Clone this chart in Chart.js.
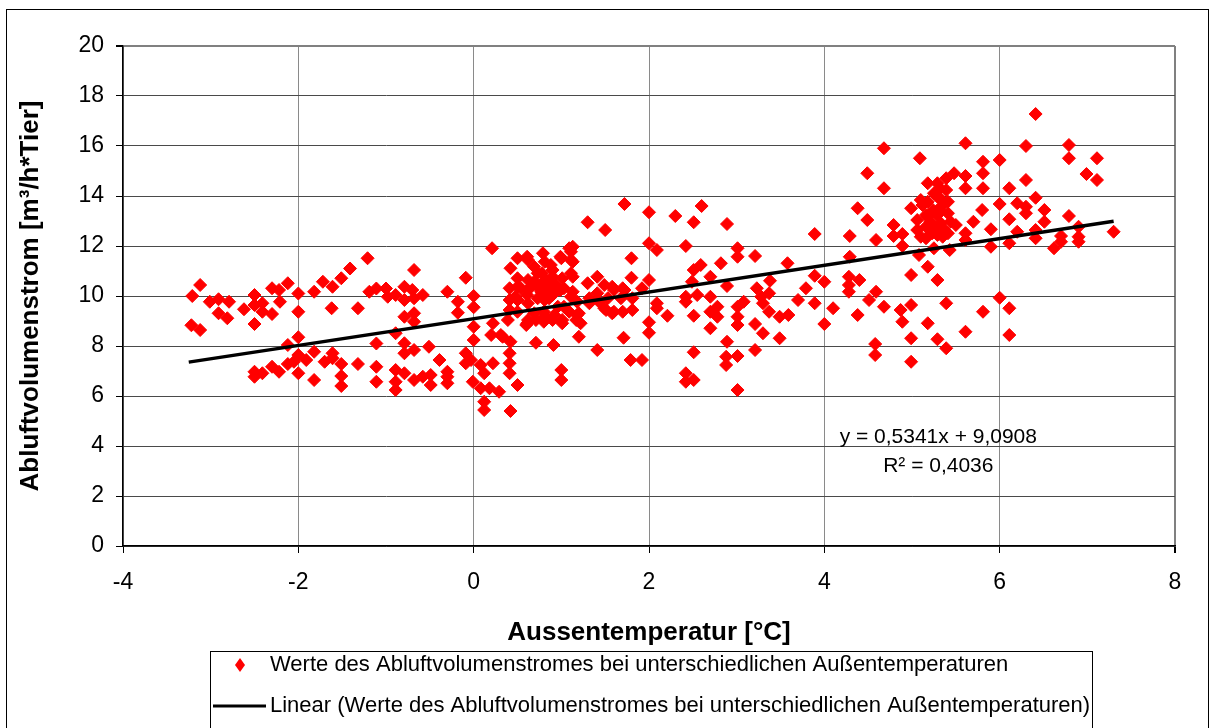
<!DOCTYPE html>
<html>
<head>
<meta charset="utf-8">
<script src="https://cdn.jsdelivr.net/npm/chart.js@4.4.0/dist/chart.umd.min.js"></script>
<style>
  html, body { margin: 0; padding: 0; background: #fff; }
  #wrap { width: 1209px; height: 728px; }
</style>
</head>
<body>
<div id="wrap"><canvas id="chart" width="1209" height="728"></canvas></div>
<script>
// Messwerte: Aussentemperatur [°C] und Abluftvolumenstrom [m³/h*Tier], nach Temperaturbereich
const tempWest = [-3.12,-3.21,-3.22,-3.12,-3.01,-2.91,-2.79,-2.91,-2.81,-2.62,
  -2.5,-2.5,-2.41,-2.41,-2.5,-2.3,-2.3,-2.22,-2.21,-2.12,
  -2.0,-2.0,-1.82,-1.72,-1.61,-1.62,-1.51,-1.41,-1.32,-1.21,
  -1.19,-1.11,-2.0,-2.12,-2.0,-2.05,-1.91,-1.82,-2.12,-2.3,
  -2.22,-2.5,-2.5,-2.41,-2.0,-1.82,-1.7,-1.61,-1.61,-1.51,
  -1.51,-1.51,-1.32,-1.11,-1.11,-1.11];
const flowWest = [10.44,10.0,8.83,8.64,9.77,9.87,9.77,9.31,9.11,9.47,
  10.04,9.64,9.71,9.37,8.88,9.28,10.31,10.24,9.77,10.51,
  10.1,9.37,10.17,10.57,10.37,9.51,10.71,11.1,9.51,11.51,
  10.17,10.3,8.35,8.04,7.64,7.37,7.44,7.77,7.28,7.17,
  6.97,6.97,6.77,6.91,6.91,6.64,7.37,7.71,7.51,7.28,
  6.8,6.4,7.28,8.1,7.17,6.57];

const tempZero = [-0.68,-1.0,-0.98,-0.89,-0.79,-0.79,-0.7,-0.68,-0.58,-0.79,
  -0.68,-0.68,-0.89,-0.79,-0.79,-0.68,-0.51,-0.39,-0.3,-0.18,
  -0.18,-0.09,0.0,0.0,0.0,0.0,-0.09,-0.09,-0.03,
  -0.89,-0.89,-0.89,-0.79,-0.68,-0.58,-0.49,-0.49,-0.3,-0.3,
  -0.3,-0.01,0.08,0.12,0.22,0.08,0.18,0.29,0.12,0.12,
  0.42,0.41,0.41,0.5,0.22,0.2,0.31,0.42,0.39,0.71,
  0.91];
const flowZero = [11.04,10.3,9.97,10.04,10.37,9.84,10.24,9.91,10.04,9.17,
  9.31,8.97,8.51,8.11,7.71,7.84,7.97,7.44,10.17,9.77,
  9.33,10.73,10.0,9.55,8.77,8.24,7.71,7.31,7.44,
  7.04,6.57,6.24,6.91,6.64,6.77,6.84,6.44,6.97,6.51,
  6.77,6.57,7.24,6.91,7.31,6.31,6.31,6.17,5.77,5.44,
  5.4,7.31,6.91,6.44,8.91,8.44,8.44,8.17,9.04,8.13,
  8.04];

const tempOne = [0.21,0.42,0.5,0.62,0.79,0.81,1.0,1.09,0.5,0.62,
  0.73,0.82,0.9,0.41,0.5,0.62,0.73,0.81,0.92,1.01,
  1.03,0.41,0.5,0.62,0.81,0.9,0.96,0.41,0.5,0.62,
  0.71,0.81,0.9,1.01,0.61,1.0,1.0,0.41,
  0.61,0.99,1.11,0.69,0.88,0.78,1.11,0.69,0.78,0.9,
  0.54,0.65,0.77,0.88,0.99,1.49,1.6,0.48,0.61,0.73,
  0.86,1.11,1.18,1.32,1.43,1.53,1.72,0.69,0.8,0.92,
  1.09,1.18,1.51,1.6,0.6,0.8,1.01,1.17,1.22,0.33,
  1.2];
const flowOne = [11.91,11.11,11.51,11.44,11.71,11.37,11.51,11.91,10.71,10.64,
  10.91,10.64,11.04,10.31,10.37,10.24,10.37,10.24,10.51,10.71,
  10.31,9.84,9.84,9.71,9.84,10.04,9.57,9.44,9.37,9.04,
  9.04,9.17,9.04,9.04,8.91,7.04,6.64,7.71,
  11.57,11.57,11.44,11.17,11.24,10.91,10.91,10.57,10.51,10.77,
  10.31,10.37,10.17,10.37,10.24,10.44,10.24,9.97,10.04,9.91,
  9.91,9.97,9.77,9.71,9.77,9.91,10.24,9.31,9.37,9.24,
  9.37,9.24,9.44,9.37,8.84,8.97,8.91,9.04,8.91,8.37,
  8.37];

const tempTwo = [1.72,2.0,1.3,1.5,2.3,2.51,2.6,2.89,2.0,2.09,
  2.42,3.01,3.01,3.21,1.13,1.11,1.13,1.8,2.51,2.59,
  2.82,
  1.13,1.3,1.41,1.58,1.7,1.8,1.92,2.0,2.49,
  2.7,2.89,3.23,1.13,1.32,1.41,1.68,1.81,2.42,2.55,
  2.7,
  1.03,1.2,1.49,1.58,1.7,1.81,2.09,2.09,2.42,
  2.7,2.78,2.78,3.01,3.08,3.01,2.21,2.51,2.0,2.0,
  2.7,3.01,3.21,
  1.41,1.71,1.79,1.92,2.89,2.88,3.01,2.88,3.21,2.51,
  2.42,2.42,2.51,3.01];
const flowTwo = [13.68,13.35,12.95,12.64,13.2,12.95,13.6,12.88,12.11,11.84,
  12.0,11.91,11.57,11.6,11.97,11.77,11.37,11.51,11.04,11.24,
  11.31,
  10.77,10.51,10.77,10.37,10.31,10.73,10.31,10.64,10.57,
  10.77,10.4,10.31,10.17,9.91,10.11,9.91,9.91,9.97,10.04,
  9.97,
  9.57,9.31,9.51,9.31,9.37,9.44,9.71,9.51,9.77,
  9.37,9.57,9.17,9.57,9.77,9.17,9.21,9.21,8.95,8.53,
  8.71,8.84,8.88,
  7.84,8.33,7.44,7.44,8.17,7.57,7.6,7.24,7.84,7.75,
  6.91,6.57,6.64,6.24];

const tempFour = [4.68,5.09,4.49,4.68,5.18,4.38,4.49,4.99,5.1,3.89,
  4.29,4.59,4.79,4.79,4.89,4.89,5.06,5.06,5.18,5.16,
  5.23,5.31,5.33,5.35,5.39,5.39,5.29,5.08,
  3.58,4.29,3.89,4.28,4.4,4.28,4.28,4.0,3.79,3.38,
  4.99,5.18,5.29,3.28,3.37,3.3,3.7,3.89,4.59,4.51,
  4.68,4.87,4.99,5.39,
  3.37,3.49,3.59,4.1,4.38,4.89,5.18,3.3,4.0,3.49,
  4.99,5.29,5.39,4.58,4.58,4.99];
const flowFour = [15.91,15.51,14.91,14.31,14.51,13.51,13.04,13.51,13.84,12.48,
  12.4,12.24,12.84,12.4,12.48,12.0,13.04,12.64,13.17,12.77,
  12.51,13.44,12.91,12.37,14.71,14.24,13.97,11.64,
  11.31,11.57,10.81,10.77,10.64,10.44,10.17,10.57,10.31,10.61,
  10.84,11.17,10.64,9.97,10.11,9.71,9.84,9.71,10.17,9.84,
  9.57,9.44,9.64,9.71,
  9.37,9.17,9.24,9.51,9.24,8.97,8.91,8.51,8.88,8.31,
  8.31,8.27,7.91,8.08,7.64,7.37];

const tempFive = [5.29,5.48,5.32,5.25,5.18,5.32,5.41,5.12,5.24,5.33,
  5.16,5.29,5.41,5.21,5.44,5.5,5.25,5.37,5.1,5.16,
  5.29,5.41,5.25,5.43,5.61,5.61,5.7,5.8];
const flowFive = [14.51,14.91,14.31,14.11,13.77,13.91,13.77,13.64,13.44,13.57,
  13.24,13.24,13.31,12.97,12.97,12.84,12.71,12.64,12.37,12.31,
  12.44,12.51,11.91,11.84,12.51,12.24,12.97,13.44];

const tempSix = [6.41,5.61,6.3,6.79,6.79,7.11,5.81,6.0,6.99,7.11,
  5.81,6.3,5.61,5.61,5.81,6.11,6.41,6.0,6.2,6.3,
  6.3,6.51,6.51,6.11,5.9,5.9,6.11,6.2,6.41,6.41,
  6.79,6.9,6.9,6.9,6.62,6.7,6.7,7.3,
  6.0,6.11,5.81,5.61,6.11];
const flowSix = [17.28,16.11,16.0,16.04,15.51,15.51,15.37,15.44,14.88,14.64,
  14.91,14.64,14.8,14.31,14.31,14.31,13.93,13.68,13.71,13.57,
  13.31,13.44,12.97,13.07,12.67,11.97,12.11,12.57,12.64,12.31,
  13.2,12.77,12.37,12.17,11.91,12.17,12.4,12.57,
  9.93,9.51,9.37,8.57,8.44];

// Trendlinie (Excel): y = 0,5341x + 9,0908
const trendSlope = 0.5341;
const trendIntercept = 9.0908;
const trendFrom = -3.25;
const trendTo = 7.3;
const equationText = ['y = 0,5341x + 9,0908', 'R\u00B2 = 0,4036'];

const xTicks = [-4, -2, 0, 2, 4, 6, 8];
const yTicks = [0, 2, 4, 6, 8, 10, 12, 14, 16, 18, 20];

const seriesLabel = 'Werte des Abluftvolumenstromes bei unterschiedlichen Au\u00DFentemperaturen';
const trendLabel = 'Linear (Werte des Abluftvolumenstromes bei unterschiedlichen Au\u00DFentemperaturen)';

const FONT = '"Liberation Sans", Arial, sans-serif';

// Punkte zusammenbauen
const groups = [[tempWest, flowWest], [tempZero, flowZero], [tempOne, flowOne],
  [tempTwo, flowTwo], [tempFour, flowFour], [tempFive, flowFive], [tempSix, flowSix]];
const points = [];
groups.forEach(([xs, ys]) => {
  if (xs.length !== ys.length) console.warn('length mismatch', xs.length, ys.length);
  xs.forEach((x, i) => points.push({ x: x, y: ys[i] }));
});
const trendPoints = [trendFrom, trendTo].map(x => ({ x: x, y: trendSlope * x + trendIntercept }));

// Rahmen, Gleichung und Legende wie im Excel-Diagramm
const decorPlugin = {
  id: 'decor',
  beforeDraw(chart) {
    const ctx = chart.ctx;
    ctx.save();
    ctx.fillStyle = '#fff';
    ctx.fillRect(0, 0, chart.width, chart.height);
    ctx.restore();
  },
  afterDraw(chart) {
    const ctx = chart.ctx;
    const xs = chart.scales.x, ys = chart.scales.y;
    ctx.save();

    // outer frame
    ctx.strokeStyle = '#000';
    ctx.lineWidth = 1;
    ctx.strokeRect(6.5, 9.5, 1202, 740);

    // equation
    ctx.fillStyle = '#000';
    ctx.font = '21px ' + FONT;
    ctx.textAlign = 'center';
    ctx.textBaseline = 'middle';
    const ex = xs.getPixelForValue(5.3);
    const ey = ys.getPixelForValue(4.36);
    ctx.fillText(equationText[0], ex, ey);
    ctx.fillText(equationText[1], ex, ey + 29);

    // legend box
    ctx.strokeStyle = '#000';
    ctx.lineWidth = 1;
    ctx.strokeRect(210.5, 651.5, 882, 100);
    const ds = chart.data.datasets;
    const row1 = 665, row2 = 706;
    ctx.fillStyle = ds[1].backgroundColor;
    ctx.beginPath();
    ctx.moveTo(240, row1 - 7);
    ctx.lineTo(245, row1);
    ctx.lineTo(240, row1 + 7);
    ctx.lineTo(235, row1);
    ctx.closePath();
    ctx.fill();
    ctx.strokeStyle = ds[0].borderColor;
    ctx.lineWidth = 3;
    ctx.beginPath();
    ctx.moveTo(213, row2);
    ctx.lineTo(266, row2);
    ctx.stroke();
    ctx.fillStyle = '#000';
    ctx.font = '22px ' + FONT;
    ctx.textAlign = 'left';
    ctx.fillText(seriesLabel, 270, row1);
    ctx.fillText(trendLabel, 270, row2);
    ctx.restore();
  }
};

const ctx = document.getElementById('chart').getContext('2d');
new Chart(ctx, {
  type: 'scatter',
  data: {
    datasets: [{
      type: 'line',
      label: trendLabel,
      data: trendPoints,
      borderColor: '#000',
      borderWidth: 3.5,
      pointRadius: 0,
      fill: false
    }, {
      label: seriesLabel,
      data: points,
      pointStyle: 'rectRot',
      pointRadius: 6.5,
      backgroundColor: '#ff0000',
      borderColor: '#ff0000',
      borderWidth: 1
    }]
  },
  options: {
    responsive: false,
    animation: false,
    layout: { padding: { top: 46, right: 34, bottom: 78, left: 0 } },
    plugins: {
      legend: { display: false },
      tooltip: { enabled: false }
    },
    scales: {
      x: {
        type: 'linear',
        min: xTicks[0],
        max: xTicks[xTicks.length - 1],
        afterBuildTicks: s => { s.ticks = xTicks.map(v => ({ value: v })); },
        afterFit: s => { s.height = 104; },
        ticks: { color: '#000', font: { family: FONT, size: 23 }, padding: 16, maxRotation: 0 },
        grid: {
          color: c => c.tick && c.tick.value === 8 ? '#808080' : '#8a8a8a',
          lineWidth: c => c.tick && c.tick.value === 8 ? 2 : 1,
          tickColor: '#000',
          tickLength: 7
        },
        border: { color: '#000', width: 1.5 },
        title: {
          display: true,
          text: 'Aussentemperatur [\u00B0C]',
          color: '#000',
          font: { family: FONT, size: 26, weight: 'bold' },
          padding: { top: 0, bottom: 2 }
        }
      },
      y: {
        min: yTicks[0],
        max: yTicks[yTicks.length - 1],
        afterBuildTicks: s => { s.ticks = yTicks.map(v => ({ value: v })); },
        afterFit: s => { s.width = 123; },
        ticks: { color: '#000', font: { family: FONT, size: 23 }, padding: 12 },
        grid: {
          color: c => c.tick && c.tick.value === 20 ? '#808080' : '#4a4a4a',
          lineWidth: c => c.tick && c.tick.value === 20 ? 2 : 1,
          tickColor: '#000',
          tickLength: 7
        },
        border: { color: '#000', width: 1.5 },
        title: {
          display: true,
          text: 'Abluftvolumenstrom [m\u00B3/h*Tier]',
          color: '#000',
          font: { family: FONT, size: 26, weight: 'bold' },
          padding: { top: 15, bottom: 0 }
        }
      }
    }
  },
  plugins: [decorPlugin]
});
</script>
</body>
</html>
